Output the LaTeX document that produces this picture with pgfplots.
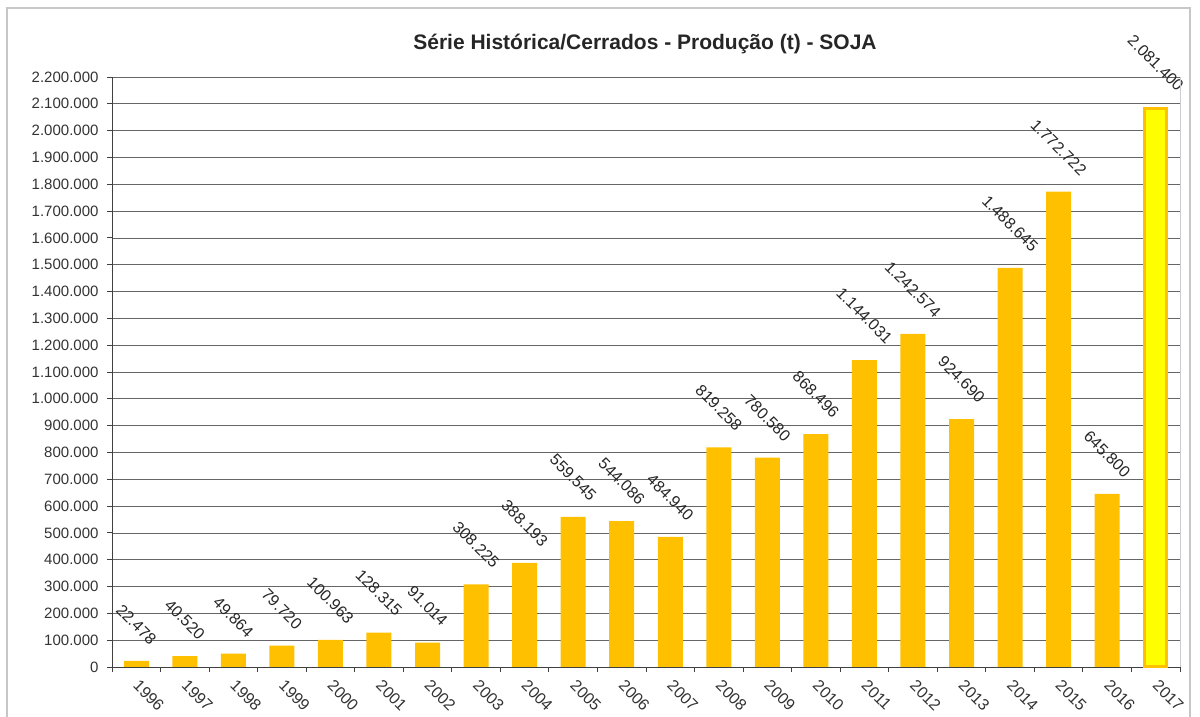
\documentclass[border=0pt]{standalone}
\usepackage{graphicx}
\usepackage{pgfplots}
\pgfplotsset{compat=1.18}
\usepackage{fontspec}
\setmainfont{Liberation Sans}
\definecolor{gold}{RGB}{255,192,0}
\definecolor{yel}{RGB}{255,255,0}
\begin{document}
\begin{tikzpicture}[x=1pt,y=1pt]
\useasboundingbox (0,0) rectangle (1200,717);
\draw[black!22, line width=1.5pt] (7,-20) rectangle (1190,709);
\begin{axis}[
  at={(112pt,50pt)}, anchor=south west,
  scale only axis, width=1068pt, height=590pt,
  xmin=-0.5, xmax=21.5, ymin=0, ymax=2200000,
  axis x line*=bottom, axis y line*=left,
  axis line style={black!75, line width=0.9pt, -},
  xtick={-0.5,0.5,...,21.5},
  x tick label as interval,
  xticklabels={1996,1997,1998,1999,2000,2001,2002,2003,2004,2005,2006,2007,2008,2009,2010,2011,2012,2013,2014,2015,2016,2017},
  xticklabel style={xshift=4pt, yshift=-2pt, rotate=-45, anchor=north west, font=\fontsize{16}{19}\selectfont, text=black!80},
  ytick distance=100000,
  scaled y ticks=false,
  yticklabel style={xshift=-5pt, font=\fontsize{15}{18}\selectfont, text=black!80},
  /pgf/number format/.cd, fixed, precision=0, 1000 sep={.}, assume math mode=true,
  /pgfplots/.cd,
  tick align=outside, major tick length=5pt,
  tick style={black!75, line width=0.9pt},
  ymajorgrids, grid style={black!60, line width=0.8pt},
  ybar, 
  nodes near coords={\rotatebox{-45}{\pgfmathprintnumber{\pgfplotspointmeta}}},
  every node near coord/.append style={anchor=south, inner sep=0pt, yshift=15pt, font=\fontsize{16}{19}\selectfont, text=black!85},
  clip=false,
]
\addplot[bar shift=0pt, bar width=25pt, fill=gold, draw=none] coordinates {
(0,22478) (1,40520) (2,49864) (3,79720) (4,100963) (5,128315) (6,91014) (7,308225) (8,388193) (9,559545) (10,544086) (11,484940) (12,819258) (13,780580) (14,868496) (15,1144031) (16,1242574) (17,924690) (18,1488645) (19,1772722) (20,645800)};
\addplot[bar shift=0pt, bar width=22pt, fill=yel, draw=gold, line width=3pt] coordinates {(21,2081400)};
\end{axis}
\draw[blue!15!black!20, line width=1pt] (1180.5,50) -- (1180.5,640);
\node[font=\fontsize{21}{25}\selectfont\bfseries, text=black!85] at (645,673) {Série Histórica/Cerrados - Produção (t) - SOJA};
\end{tikzpicture}
\end{document}
